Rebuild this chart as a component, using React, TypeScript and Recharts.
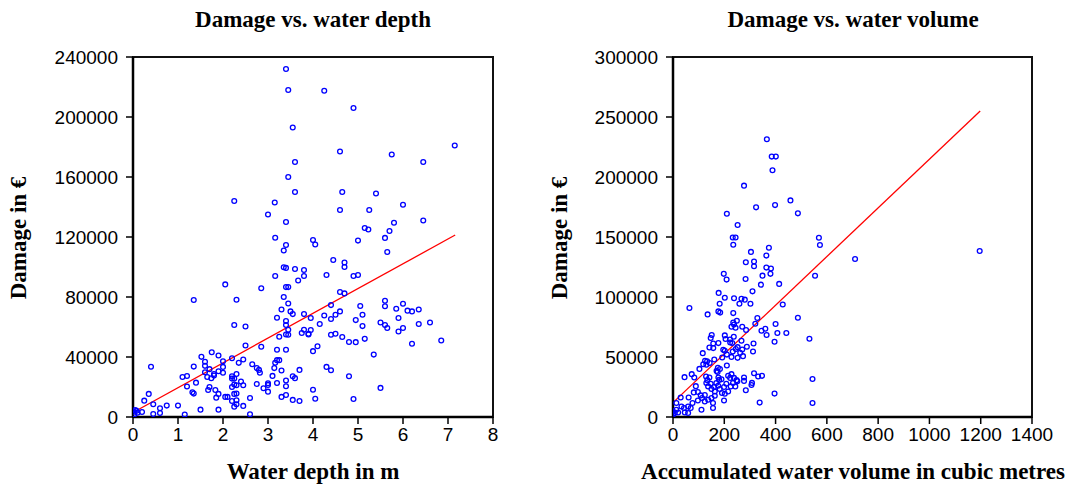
import React from 'react';
import {
  ScatterChart,
  Scatter,
  XAxis,
  YAxis,
  ReferenceLine,
  ReferenceArea,
} from 'recharts';

// ---- left panel: damage vs. water depth ----
const depthM = [
  3.4, 3.45, 3.55, 3.6, 3.45, 3.6, 2.25, 3.15, 3.0, 3.4, 3.16, 4.25, 4.9, 4.6, 5.75, 6.45, 7.15, 4.65, 5.4, 4.6,
  5.25, 6.0, 6.45, 5.8, 5.15, 5.23, 5.7, 5.6, 4.0, 5.0, 3.4, 3.35, 3.35, 3.4, 3.6, 3.8, 3.8, 3.16, 3.67, 2.05,
  2.85, 3.4, 3.45, 3.35, 1.35, 2.3, 3.45, 3.3, 3.5, 3.55, 3.8, 3.2, 3.4, 2.25, 2.5, 3.4, 3.45, 3.8, 3.75, 3.9,
  3.25, 3.4, 3.45, 2.5, 2.85, 3.2, 3.4, 1.75, 1.9, 1.52, 2.2, 2.45, 3.2, 3.25, 3.16, 1.6, 2.0, 2.35, 2.65, 3.14,
  3.3, 3.7, 2.0, 1.6, 1.35, 1.7, 1.8, 1.9, 2.0, 1.6, 1.8, 1.65, 1.74, 2.75, 2.8, 2.82, 3.1, 1.1, 1.2, 1.4,
  1.2, 2.2, 2.2, 2.25, 2.3, 2.4, 2.25, 2.3, 2.45, 2.2, 1.7, 1.67, 1.83, 1.9, 1.85, 1.32, 1.35, 2.25, 2.3, 2.05,
  2.1, 2.2, 2.3, 2.3, 2.25, 2.6, 2.45, 2.6, 1.9, 1.5, 1.15, 1.0, 0.75, 0.6, 0.6, 0.45, 0.45, 0.25, 0.35, 0.4,
  0.2, 0.05, 0.03, 0.1, 0.02, 0.08, 2.75, 2.9, 3.0, 3.0, 3.0, 3.2, 3.4, 3.4, 3.3, 3.4, 3.55, 3.6, 3.55, 3.7,
  4.05, 5.65, 4.45, 4.7, 4.7, 4.3, 4.9, 5.0, 4.6, 4.7, 4.4, 5.05, 5.6, 5.6, 6.0, 5.85, 6.1, 6.2, 6.35, 4.25,
  4.5, 4.6, 5.1, 3.95, 4.4, 4.95, 5.5, 5.6, 5.65, 5.9, 6.0, 5.9, 6.35, 6.6, 5.1, 4.15, 3.95, 3.9, 4.4, 4.5,
  4.65, 5.15, 4.8, 4.95, 6.2, 6.85, 4.1, 4.0, 5.35, 4.3, 4.4, 4.8, 5.5, 4.0, 4.05, 4.9,
];
const depthDamage = [
  232000, 218000, 193000, 170000, 160000, 150000, 144000, 143000, 135000, 130000, 119500, 217500, 206000, 177000, 175000, 170000, 181000, 150000, 149000, 138000,
  138000, 141500, 131000, 129500, 126000, 125000, 124000, 119400, 118000, 117600, 114700, 111000, 99800, 99400, 98700, 98000, 94000, 94000, 91000, 88400,
  85800, 86600, 86600, 80000, 78000, 78200, 75700, 71700, 70400, 68600, 68600, 66200, 64000, 61300, 60300, 61300, 58200, 58200, 56000, 55500,
  53500, 55000, 54800, 47700, 46800, 44800, 44800, 43200, 41000, 40100, 39200, 38300, 37900, 37900, 36100, 36800, 37200, 36100, 35200, 32600,
  31000, 31400, 33400, 34100, 33600, 31900, 28700, 30500, 29500, 29800, 27600, 26700, 25800, 32600, 31400, 29500, 27400, 26700, 27300, 22900,
  20300, 27200, 25600, 25600, 28700, 23600, 21600, 21200, 21200, 20000, 20000, 18000, 18000, 15400, 12900, 16500, 15600, 15400, 15600, 13400,
  13400, 10700, 11100, 8500, 6900, 12700, 7400, 1800, 4900, 4900, 1600, 7600, 7600, 5800, 2700, 2000, 8500, 10900, 15400, 33500,
  3300, 4700, 1800, 2900, 3500, 4200, 22000, 19200, 22500, 21400, 16900, 22700, 24300, 20500, 13400, 14700, 27200, 25900, 11400, 10700,
  115000, 110000, 104700, 103000, 100000, 94700, 94000, 94700, 83300, 82400, 74600, 74000, 77500, 73800, 75500, 72200, 70900, 70400, 71700, 67700,
  68200, 70400, 68200, 66000, 65300, 64600, 63000, 61300, 59300, 66000, 59300, 57000, 62000, 63000, 60600, 62000, 58000, 55000, 54800, 55500,
  53300, 52100, 50000, 49900, 48800, 51000, 47200, 43900, 41600, 33400, 31200, 27200, 19400, 18200, 12200, 12000,
];
const depthTicks = [0, 1, 2, 3, 4, 5, 6, 7, 8];
const depthDamageTicks = [0, 40000, 80000, 120000, 160000, 200000, 240000];
const depthFit = [
  { x: 0, y: 3000 },
  { x: 7.16, y: 121300 },
];

// ---- right panel: damage vs. accumulated water volume ----
const volumeM3 = [
  366, 385, 401, 388, 277, 324, 398, 458, 487, 210, 252, 233, 244, 235, 304, 364, 374, 284, 316, 316,
  364, 382, 380, 198, 209, 349, 283, 343, 414, 310, 178, 202, 238, 267, 280, 182, 259, 302, 428, 64,
  135, 177, 184, 235, 249, 235, 238, 244, 228, 270, 285, 321, 329, 400, 487, 345, 360, 407, 442, 365,
  396, 532, 151, 147, 202, 205, 222, 237, 157, 142, 157, 177, 196, 223, 231, 252, 267, 288, 314, 270,
  262, 245, 233, 228, 202, 210, 312, 273, 252, 192, 161, 125, 118, 133, 130, 143, 116, 175, 183, 170,
  174, 210, 103, 73, 83, 45, 129, 134, 142, 177, 180, 189, 215, 223, 228, 238, 248, 277, 277, 316,
  332, 347, 308, 306, 284, 396, 338, 89, 130, 137, 147, 150, 160, 163, 169, 176, 182, 191, 199, 208,
  215, 225, 234, 243, 251, 202, 163, 150, 124, 108, 97, 81, 61, 30, 13, 33, 43, 59, 69, 59,
  111, 156, 156, 199, 76, 97, 113, 124, 137, 46, 0, 0, 7, 13, 20, 569, 573, 710, 1196, 554,
  544, 544,
];
const volumeDamage = [
  231500, 217000, 217000, 205600, 192800, 174700, 176600, 180500, 169700, 169400, 160000, 149600, 149600, 143500, 137600, 134500, 141000, 129000, 129500, 125600,
  124500, 123700, 119300, 119300, 114500, 117800, 115000, 110300, 110900, 104700, 103400, 99400, 98900, 98600, 97800, 94400, 94400, 94400, 93800, 90800,
  85500, 88000, 87000, 86600, 80200, 78800, 77100, 74400, 75200, 75200, 72500, 77700, 82500, 77500, 82700, 71900, 73500, 70000, 70000, 68300,
  62700, 65200, 68300, 65800, 68000, 65000, 64600, 66900, 61300, 57900, 57400, 61600, 56000, 62100, 61600, 58200, 63500, 58500, 61300, 56300,
  53500, 56600, 54600, 50100, 55200, 52000, 54600, 50700, 49300, 49600, 47900, 46800, 44000, 46500, 43500, 44900, 53200, 41000, 40000, 38400,
  37600, 42900, 40100, 35700, 32900, 33200, 33700, 30700, 32900, 32900, 30900, 31500, 34300, 32600, 35700, 32600, 30700, 32900, 30100, 36500,
  33700, 34300, 28400, 26700, 22300, 19500, 12000, 25700, 28300, 25500, 27700, 23300, 25000, 21300, 28300, 26000, 23300, 20000, 25000, 27700,
  21300, 25500, 28300, 25500, 29700, 19400, 17700, 15800, 18300, 18000, 20800, 20500, 16300, 16300, 11700, 8800, 7500, 8800, 7500, 3300,
  6100, 7500, 11700, 13800, 11700, 13800, 15800, 13000, 14400, 3800, 1900, 4700, 3300, 6100, 3800, 149400, 143300, 131700, 138300, 117700,
  31700, 11700,
];
const volumeTicks = [0, 200, 400, 600, 800, 1000, 1200, 1400];
const volumeDamageTicks = [0, 50000, 100000, 150000, 200000, 250000, 300000];
const volumeFit = [
  { x: 0, y: 12000 },
  { x: 1198, y: 255000 },
];

const depthPoints = depthM.map((x, i) => ({ x, y: depthDamage[i] }));
const volumePoints = volumeM3.map((x, i) => ({ x, y: volumeDamage[i] }));

const tickStyle = { fill: '#000', fontSize: 19, fontFamily: '"Liberation Sans", Arial, sans-serif' };
const serifBold: React.CSSProperties = {
  position: 'absolute',
  fontFamily: '"Liberation Serif", "Times New Roman", serif',
  fontWeight: 'bold',
  fontSize: 23,
  lineHeight: '23px',
  color: '#000',
  whiteSpace: 'nowrap',
  textAlign: 'center',
};

function Ring(props: any) {
  if (props.cx == null || props.cy == null) return null;
  return <circle cx={props.cx} cy={props.cy} r={2.4} fill="none" stroke="#0000ff" strokeWidth={1.3} />;
}

interface PanelProps {
  left: number;
  width: number;
  plotWidth: number;
  points: { x: number; y: number }[];
  xTicks: number[];
  yTicks: number[];
  fit: { x: number; y: number }[];
}

function Panel({ left, width, plotWidth, points, xTicks, yTicks, fit }: PanelProps) {
  const xMax = xTicks[xTicks.length - 1];
  const yMax = yTicks[yTicks.length - 1];
  return (
    <div style={{ position: 'absolute', left, top: 0 }}>
      <ScatterChart
        width={width}
        height={490}
        margin={{ top: 57, right: width - 133 - plotWidth, bottom: 33, left: 53 }}
      >
        <XAxis
          type="number"
          dataKey="x"
          domain={[0, xMax]}
          ticks={xTicks}
          allowDataOverflow
          height={40}
          stroke="#000"
          axisLine={{ stroke: '#000', strokeWidth: 2.5 }}
          tickLine={{ stroke: '#000', strokeWidth: 1.5 }}
          tickSize={7}
          tickMargin={4}
          tick={tickStyle}
          interval={0}
        />
        <YAxis
          type="number"
          dataKey="y"
          domain={[0, yMax]}
          ticks={yTicks}
          allowDataOverflow
          width={80}
          stroke="#000"
          axisLine={{ stroke: '#000', strokeWidth: 2.5 }}
          tickLine={{ stroke: '#000', strokeWidth: 1.5 }}
          tickSize={7}
          tickMargin={8}
          tick={tickStyle}
          tickFormatter={(v) => String(v)}
          interval={0}
        />
        {/* box around the plot */}
        <ReferenceArea x1={0} x2={xMax} y1={0} y2={yMax} fill="none" stroke="#111" strokeWidth={2} />
        <ReferenceLine segment={fit} stroke="#ff0000" strokeWidth={1.3} />
        <Scatter data={points} shape={<Ring />} isAnimationActive={false} />
      </ScatterChart>
    </div>
  );
}

export default function App() {
  return (
    <div style={{ position: 'absolute', left: 0, top: 0, width: 1070, height: 490, background: '#fff', overflow: 'hidden' }}>
      <div style={{ ...serifBold, left: 13, width: 600, top: 8 }}>Damage vs. water depth</div>
      <div style={{ ...serifBold, left: 553, width: 600, top: 8 }}>Damage vs. water volume</div>

      <Panel left={0} width={540} plotWidth={360} points={depthPoints} xTicks={depthTicks} yTicks={depthDamageTicks} fit={depthFit} />
      <Panel left={540} width={530} plotWidth={359} points={volumePoints} xTicks={volumeTicks} yTicks={volumeDamageTicks} fit={volumeFit} />

      <div style={{ ...serifBold, left: 13, width: 600, top: 460 }}>Water depth in m</div>
      <div style={{ ...serifBold, left: 553, width: 600, top: 460 }}>Accumulated water volume in cubic metres</div>

      <div style={{ ...serifBold, left: 19 - 100, top: 238 - 15, width: 200, lineHeight: '30px', transform: 'rotate(-90deg)' }}>
        Damage in €
      </div>
      <div style={{ ...serifBold, left: 560 - 100, top: 238 - 15, width: 200, lineHeight: '30px', transform: 'rotate(-90deg)' }}>
        Damage in €
      </div>
    </div>
  );
}
